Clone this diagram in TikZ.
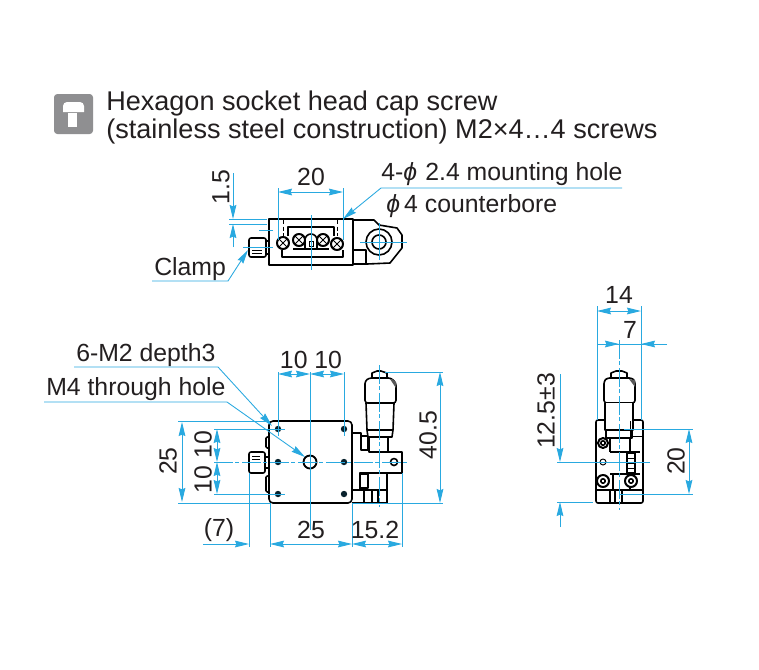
\documentclass[tikz,border=0pt]{standalone}
\usepackage{fontspec}
\setmainfont{Liberation Sans}
\usepackage{xcolor}
\usetikzlibrary{arrows.meta}
\definecolor{dimblue}{HTML}{29A9E0}
\definecolor{icongray}{HTML}{8F8F91}
\definecolor{inktext}{HTML}{231F20}

\begin{document}
\begin{tikzpicture}[
    x=0.75pt, y=-0.75pt,
    dimline/.style={draw=dimblue, line width=0.65pt},
    arrow/.style={dimline, {Stealth[length=10.5pt,width=5pt,inset=1pt]}-{Stealth[length=10.5pt,width=5pt,inset=1pt]}},
    tipend/.style={dimline, -{Stealth[length=10.5pt,width=5pt,inset=1pt]}},
    center/.style={dimline, dash pattern=on 14pt off 2pt on 3pt off 2pt},
    part/.style={draw=black, line width=1.2pt, line join=round},
    thinpart/.style={draw=black, line width=0.7pt},
    label/.style={text=inktext, inner sep=0pt, font=\fontsize{18.6}{21}\selectfont},
    biglabel/.style={text=inktext, inner sep=0pt, anchor=base west, font=\fontsize{20.3}{24}\selectfont}
]
    \useasboundingbox (0,0) rectangle (759,669);
    \fill[white] (0,0) rectangle (759,669);

    % heading with icon
    \fill[icongray, rounded corners=2.5pt] (54,94) rectangle (93,134);
    \fill[white] (63,112) {[rounded corners=3pt] -- (63,102) -- (84,102)} -- (84,112) -- cycle;
    \fill[white] (68,113) rectangle (77,127);
    \node[biglabel] (headone) at (106,110) {Hexagon socket head cap screw};
    \node[biglabel] (headtwo) at (106,138) {(stainless steel construction) M2×4…4 screws};

    % top view
    \draw[part] (269,219) rectangle (353,265);
    \draw[part] (353,220) -- (374,220) -- (379,225) -- (397,228) -- (402,235) -- (402,248) -- (390,263) -- (367,264) -- (353,264);
    \draw[part] (353,250) -- (366,250) -- (366,264);
    \draw[part, fill=white] (379,242) circle (13);
    \draw[part] (379,242) circle (7);
    \draw[part, rounded corners=1.5pt] (249,238) rectangle (266,257);
    \draw[part] (266,241) -- (269,241) (266,254) -- (269,254);
    \draw[thinpart] (252,250) -- (262,250) (252,253) -- (262,253);
    \draw[part] (288,236) -- (288,227) -- (334,227) -- (334,236);
    \draw[part] (282,250) -- (282,257) -- (343,257) -- (343,250);
    \draw[thinpart, densely dashed] (283,220) -- (283,236) (337,220) -- (337,236) (352,220) -- (352,236);
    \foreach \sx/\sy/\sname in {283/243/a, 299/240/b, 323/240/c, 337/244/d}{
        \draw[part, line width=1.5pt, fill=white] (\sx,\sy) circle (6);
        \draw[thinpart] (\sx-4,\sy-4) -- (\sx+4,\sy+4) (\sx-4,\sy+4) -- (\sx+4,\sy-4);
    }
    \draw[part] (305,249) -- (305,240) arc (180:360:6) -- (317,249);
    \draw[thinpart] (309,241) rectangle (313,246);
    \draw[part] (293,249) -- (329,249);

    \draw[dimline] (311,215) -- (311,270);
    \draw[dimline] (360,242) -- (407,242) (379,223) -- (379,260);
    \draw[dimline] (243,247) -- (273,247) (259,230) -- (273,230);
    \draw[dimline] (278,188) -- (278,240) (343,188) -- (343,240);
    \draw[arrow] (278,192) -- (343,192);
    \node[label] (topwidth) at (311,177) {20};
    \draw[dimline] (229,219) -- (267,219) (229,224) -- (267,224);
    \draw[tipend] (233,173) -- (233,219);
    \draw[tipend] (233,247) -- (233,224);
    \node[label, rotate=90] (topheight) at (221,187) {1.5};

    \node[label, anchor=base west] (mounthole) at (381,180) {4-\textit{ϕ}\,\,2.4 mounting hole};
    \node[label, anchor=base west] (counterbore) at (386,212) {\textit{ϕ}\,4 counterbore};
    \coordinate (mountend) at (622,188);
    \coordinate (mountbend) at (381,188);
    \coordinate (mounttip) at (343,219);
    \draw[tipend] (mountend) -- (mountbend) -- (mounttip);

    \node[label, anchor=base west] (clamp) at (154,275) {Clamp};
    \coordinate (clampstart) at (152,281);
    \coordinate (clampbend) at (228,281);
    \coordinate (clamptip) at (248,250);
    \draw[tipend] (clampstart) -- (clampbend) -- (clamptip);

    % front view
    \draw[part, rounded corners=3pt] (269,421) rectangle (352,503);
    \draw[part, rounded corners=1pt] (269,437) -- (266,437) -- (266,448) -- (269,448);
    \draw[part, rounded corners=1pt] (269,476) -- (266,476) -- (266,492) -- (269,492);
    \draw[part, rounded corners=1.5pt] (249,452) rectangle (265,473);
    \draw[part] (265,457) -- (269,457) (265,468) -- (269,468);
    \draw[thinpart] (252,456) -- (260,456) (252,459) -- (260,459) (252,462) -- (258,462);
    \foreach \hx in {278,344}{
        \foreach \hy in {429,462,494}{
            \fill[black!80!dimblue] (\hx,\hy) circle (3.2);
        }
    }
    \draw[part, line width=1.4pt, fill=white] (310,462) circle (6.5);

    % front view micrometer and block
    \draw[part] (352,433) -- (361,433) -- (361,450) -- (368,450) -- (368,437);
    \draw[part] (361,436) -- (368,436);
    \draw[part] (388,437) -- (388,452) -- (402,452) -- (402,473) -- (387,473);
    \draw[part] (369,437) -- (369,452) -- (388,452);
    \draw[part] (352,490) -- (387,490) -- (387,473) -- (360,473) -- (360,490);
    \draw[part] (360,474) rectangle (368,488);
    \draw[part] (352,503) -- (387,503) -- (387,490);
    \draw[part] (364,490) -- (364,503) (372,490) -- (372,503) (378,490) -- (378,503);
    \draw[part, fill=white] (394,462) circle (3.5);
    \draw[part] (372,378) -- (372,373) -- (377,371) -- (381,371) -- (387,373) -- (387,378);
    \draw[part, fill=white, rounded corners=2pt] (365,403) -- (365,381) -- (369,378) -- (391,378) -- (396,383) -- (396,403) -- cycle;
    \fill[black!65] (396,382) -- (396,388) -- (390,379) -- (392,379) -- cycle;
    \draw[part] (366,403) -- (367,430) -- (368,437) -- (392,437) -- (393,430) -- (394,403);
    \draw[part] (367,430) -- (393,430);

    \draw[center] (379,365) -- (379,507);
    \draw[center] (214,462) -- (408,462);
    \draw[dimline] (310,372) -- (310,530);
    \draw[dimline] (278,372) -- (278,436) (344,372) -- (344,436);
    \draw[arrow] (278,374) -- (310,374);
    \draw[arrow] (310,374) -- (344,374);
    \node[label] (frontten) at (311,360) {10 10};

    \draw[dimline] (385,372) -- (443,372) (352,503) -- (443,503);
    \draw[arrow] (440,372) -- (440,503);
    \node[label, rotate=90] (frontheight) at (428,435) {40.5};

    \draw[dimline] (178,421) -- (270,421) (178,503) -- (270,503);
    \draw[arrow] (182,422) -- (182,502);
    \node[label, rotate=90] (frontdepth) at (168,461) {25};
    \draw[dimline] (214,429) -- (285,429) (214,494) -- (285,494);
    \draw[arrow] (217,429) -- (217,462);
    \draw[arrow] (217,462) -- (217,494);
    \node[label, rotate=90] (frontpitch) at (203,462) {10 10};

    \draw[dimline] (249,473) -- (249,547) (270,503) -- (270,547) (352,503) -- (352,547) (402,473) -- (402,547);
    \draw[tipend] (203,544) -- (249,544);
    \draw[arrow] (270,544) -- (352,544);
    \draw[arrow] (352,544) -- (402,544);
    \node[label] (clampgap) at (219,530) {(7)};
    \node[label] (framewidth) at (311,530) {25};
    \node[label] (barrelgap) at (375,530) {15.2};

    \node[label, anchor=base west] (tapped) at (76,361) {6-M2 depth3};
    \coordinate (tappedstart) at (74,367);
    \coordinate (tappedbend) at (218,367);
    \coordinate (tappedtip) at (272,426);
    \draw[tipend] (tappedstart) -- (tappedbend) -- (tappedtip);
    \node[label, anchor=base west] (through) at (46,395) {M4 through hole};
    \coordinate (throughstart) at (44,402);
    \coordinate (throughbend) at (227,402);
    \coordinate (throughtip) at (305,457);
    \draw[tipend] (throughstart) -- (throughbend) -- (throughtip);

    % side view
    \draw[part, rounded corners=1.5pt] (596,420) rectangle (643,503);
    \draw[part] (611,378) -- (611,373) -- (616,371) -- (622,371) -- (627,373) -- (627,378);
    \draw[part, fill=white, rounded corners=2pt] (604,403) -- (604,381) -- (607,378) -- (632,378) -- (635,381) -- (635,403) -- cycle;
    \fill[black!65] (635,380) -- (635,387) -- (629,379) -- cycle;
    \draw[part, fill=white] (605,403) -- (605,430) -- (633,430) -- (633,403);
    \draw[part] (606,430) -- (606,438) -- (632,438) -- (632,430);
    \draw[part] (610,438) -- (610,452) (630,438) -- (630,452);
    \draw[part] (610,452) -- (640,452) (610,474) -- (640,474) (613,474) -- (613,490) (630,474) -- (630,490);
    \draw[part] (596,490) -- (643,490);
    \draw[part] (610,490) -- (610,503) (615,490) -- (615,503) (622,490) -- (622,503);
    \draw[part] (627,453) rectangle (635,473);
    \draw[thinpart] (627,458) -- (635,458) (627,463) -- (635,463) (627,468) -- (635,468);
    \draw[thinpart] (630,421) -- (630,436) -- (642,436);
    \foreach \sx/\sy/\srad in {603/443/5, 603/481/6, 631/481/6}{
        \draw[part, line width=1.5pt, fill=white] (\sx,\sy) circle (\srad);
        \draw[part] (\sx,\sy) circle (2.2);
    }
    \draw[thinpart, fill=white] (603,462) circle (3);

    \draw[center] (619,340) -- (619,510);
    \draw[dimline] (557,462) -- (650,462) (557,502) -- (593,502);
    \draw[dimline] (597,306) -- (597,420) (641,306) -- (641,420);
    \draw[arrow] (597,311) -- (641,311);
    \node[label] (sidewidth) at (619,295) {14};
    \draw[dimline] (597,344) -- (667,344);
    \draw[tipend] (597,344) -- (619,344);
    \draw[tipend] (667,344) -- (641,344);
    \node[label] (sidehalf) at (630,330) {7};
    \draw[tipend] (560,374) -- (560,462);
    \draw[tipend] (560,527) -- (560,502);
    \node[label, rotate=90] (travel) at (546,411) {12.5±3};
    \draw[dimline] (624,429) -- (693,429) (620,494) -- (693,494);
    \draw[arrow] (689,429) -- (689,494);
    \node[label, rotate=90] (sidepitch) at (676,461) {20};
\end{tikzpicture}
\end{document}
